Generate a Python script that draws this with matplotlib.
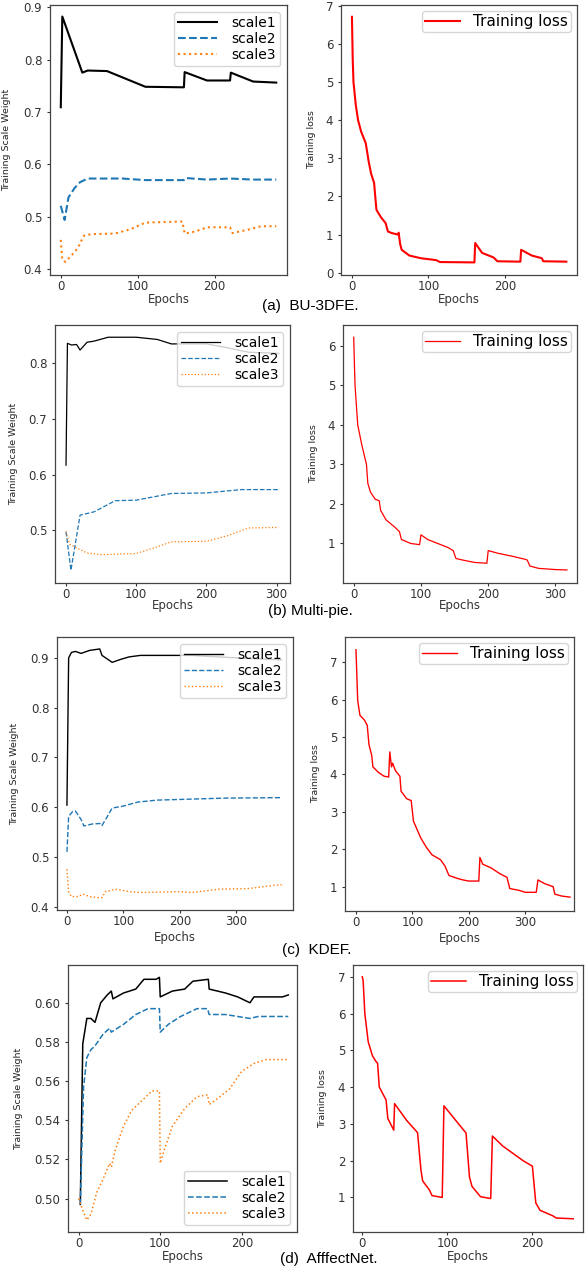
import matplotlib
matplotlib.use('Agg')
import matplotlib.pyplot as plt
from matplotlib.ticker import FormatStrFormatter

# (a) BU-3DFE
bu_x1 = [0, 2, 28, 35, 60, 110, 160, 161, 190, 220, 221, 250, 280]
bu_s1 = [0.709, 0.882, 0.775, 0.779, 0.778, 0.748, 0.747, 0.776, 0.760, 0.760, 0.775, 0.758, 0.756]
bu_x2 = [0, 5, 10, 18, 25, 35, 80, 110, 160, 162, 190, 220, 250, 280]
bu_s2 = [0.521, 0.494, 0.537, 0.555, 0.566, 0.573, 0.573, 0.570, 0.570, 0.574, 0.571, 0.573, 0.571, 0.571]
bu_x3 = [0, 2, 6, 15, 22, 30, 40, 70, 90, 110, 158, 161, 175, 190, 220, 223, 245, 260, 280]
bu_s3 = [0.456, 0.418, 0.414, 0.428, 0.440, 0.464, 0.467, 0.468, 0.476, 0.489, 0.491, 0.468, 0.472, 0.480,
         0.480, 0.469, 0.476, 0.482, 0.482]
bu_xl = [0, 1, 2, 5, 8, 12, 18, 22, 25, 29, 30, 32, 38, 44, 47, 52, 60, 61, 63, 65, 75, 90, 110, 115,
         160, 161, 170, 185, 190, 220, 221, 235, 248, 250, 280]
bu_loss = [6.71, 5.6, 5.0, 4.4, 4.0, 3.7, 3.4, 2.9, 2.6, 2.35, 2.1, 1.65, 1.45, 1.3, 1.08, 1.04, 1.0, 1.05,
           0.75, 0.6, 0.45, 0.38, 0.33, 0.28, 0.27, 0.78, 0.52, 0.4, 0.3, 0.29, 0.6, 0.45, 0.38, 0.3, 0.29]

# (b) Multi-pie
mp_x1 = [0, 2, 8, 15, 20, 30, 40, 60, 100, 130, 150, 200, 230, 260, 303]
mp_s1 = [0.617, 0.836, 0.833, 0.834, 0.824, 0.838, 0.840, 0.847, 0.847, 0.843, 0.835, 0.835, 0.828, 0.820, 0.818]
mp_x2 = [0, 7, 20, 40, 70, 100, 150, 200, 250, 303]
mp_s2 = [0.497, 0.428, 0.527, 0.533, 0.553, 0.554, 0.566, 0.567, 0.573, 0.573]
mp_x3 = [0, 5, 15, 30, 50, 100, 130, 150, 200, 230, 260, 303]
mp_s3 = [0.498, 0.475, 0.468, 0.459, 0.456, 0.458, 0.470, 0.479, 0.480, 0.490, 0.504, 0.505]
mp_xl = [0, 1, 2, 6, 12, 19, 21, 25, 32, 38, 40, 48, 62, 68, 71, 85, 98, 100, 110, 125, 140, 148, 152,
         165, 180, 198, 200, 215, 235, 255, 258, 262, 275, 300, 317]
mp_loss = [6.22, 5.6, 5.0, 4.0, 3.5, 3.0, 2.52, 2.3, 2.12, 2.08, 1.84, 1.6, 1.4, 1.3, 1.1, 1.0, 0.97, 1.22,
           1.1, 1.0, 0.9, 0.82, 0.62, 0.57, 0.52, 0.5, 0.82, 0.75, 0.68, 0.6, 0.58, 0.43, 0.37, 0.34, 0.33]

# (c) KDEF
kd_x1 = [0, 3, 8, 15, 25, 40, 58, 62, 75, 80, 95, 110, 130, 200, 220, 300, 380]
kd_s1 = [0.604, 0.900, 0.911, 0.913, 0.909, 0.915, 0.918, 0.905, 0.895, 0.891, 0.897, 0.902, 0.905, 0.905,
         0.905, 0.900, 0.896]
kd_x2 = [0, 3, 10, 15, 25, 30, 45, 60, 62, 72, 80, 100, 125, 160, 220, 280, 380]
kd_s2 = [0.510, 0.581, 0.591, 0.592, 0.575, 0.562, 0.566, 0.567, 0.563, 0.582, 0.598, 0.602, 0.610, 0.614,
         0.616, 0.618, 0.619]
kd_x3 = [0, 3, 8, 20, 28, 40, 55, 62, 68, 80, 85, 110, 130, 200, 220, 270, 320, 370, 380]
kd_s3 = [0.475, 0.430, 0.420, 0.420, 0.425, 0.420, 0.418, 0.418, 0.430, 0.433, 0.435, 0.430, 0.428, 0.430,
         0.428, 0.435, 0.436, 0.443, 0.444]
kd_xl = [0, 3, 7, 15, 20, 23, 28, 30, 40, 50, 58, 60, 63, 65, 70, 78, 80, 90, 98, 102, 115, 125, 135, 150,
         158, 165, 180, 190, 200, 218, 220, 225, 240, 255, 268, 273, 290, 300, 320, 323, 335, 350, 353, 365, 380]
kd_loss = [7.33, 5.98, 5.58, 5.45, 5.31, 4.8, 4.5, 4.2, 4.05, 3.95, 3.93, 4.6, 4.2, 4.3, 4.1, 3.95, 3.55, 3.35,
           3.3, 2.75, 2.3, 2.05, 1.85, 1.72, 1.55, 1.3, 1.22, 1.18, 1.15, 1.15, 1.78, 1.6, 1.5, 1.35, 1.25,
           0.95, 0.9, 0.85, 0.85, 1.18, 1.08, 1.0, 0.8, 0.75, 0.72]

# (d) AffectNet
af_x1 = [2, 5, 10, 15, 20, 27, 35, 40, 42, 55, 70, 80, 95, 99, 100, 115, 130, 140, 159, 160, 180, 195, 210,
         215, 250, 257]
af_s1 = [0.497, 0.579, 0.592, 0.592, 0.590, 0.600, 0.604, 0.606, 0.602, 0.605, 0.607, 0.612, 0.612, 0.613,
         0.603, 0.606, 0.607, 0.611, 0.612, 0.607, 0.605, 0.603, 0.600, 0.603, 0.603, 0.604]
af_x2 = [2, 6, 10, 15, 20, 30, 38, 40, 55, 70, 85, 99, 100, 110, 125, 145, 158, 160, 180, 210, 220, 257]
af_s2 = [0.497, 0.557, 0.572, 0.576, 0.578, 0.584, 0.587, 0.585, 0.589, 0.594, 0.597, 0.597, 0.585, 0.589,
         0.593, 0.597, 0.597, 0.594, 0.594, 0.592, 0.593, 0.593]
af_x3 = [0, 5, 10, 15, 22, 30, 38, 40, 45, 55, 65, 80, 90, 99, 100, 105, 115, 130, 145, 158, 160, 170, 185,
         200, 215, 230, 257]
af_s3 = [0.500, 0.494, 0.489, 0.492, 0.503, 0.510, 0.518, 0.516, 0.525, 0.537, 0.545, 0.551, 0.555, 0.555,
         0.518, 0.525, 0.537, 0.546, 0.552, 0.553, 0.548, 0.551, 0.556, 0.565, 0.569, 0.571, 0.571]
af_xl = [0, 1, 3, 7, 12, 16, 18, 20, 28, 30, 37, 38, 52, 65, 69, 71, 79, 82, 94, 96, 122, 126, 129, 139,
         151, 153, 165, 189, 200, 204, 209, 224, 228, 248]
af_loss = [7.0, 6.9, 6.0, 5.23, 4.85, 4.7, 4.65, 4.0, 3.65, 3.15, 2.83, 3.55, 3.1, 2.76, 1.74, 1.45, 1.2, 1.05,
           1.0, 3.49, 2.75, 1.56, 1.3, 1.02, 0.97, 2.67, 2.4, 2.0, 1.85, 0.85, 0.65, 0.5, 0.44, 0.42]

captions = ['(a)  BU-3DFE.', '(b) Multi-pie.', '(c)  KDEF.', '(d)  AfffectNet.']

W, H = 588, 1274
fig = plt.figure(figsize=(W / 100, H / 100), dpi=100)


def caja(left, top, right, bottom):
    return [left / W, 1 - bottom / H, (right - left) / W, (bottom - top) / H]


def estilo(ax, xlim, ylim, xticks, yticks, ylabel, ylab_x, xlab_y):
    ax.set_xlim(xlim)
    ax.set_ylim(ylim)
    ax.set_xticks(xticks)
    ax.set_yticks(yticks)
    ax.tick_params(axis='both', labelsize=8.5, colors='#333333', length=2.5, width=0.8)
    ax.tick_params(axis='x', pad=1.2)
    ax.tick_params(axis='y', pad=3)
    for s in ax.spines.values():
        s.set_color('#444444')
        s.set_linewidth(0.9)
    ax.set_xlabel('Epochs', fontsize=8.5, color='#333333')
    ax.set_ylabel(ylabel, fontsize=6.8, color='#222222')
    ax.xaxis.set_label_coords(0.5, xlab_y)
    ax.yaxis.set_label_coords(ylab_x, 0.5)


def pesos(box, datos, lw, xlim, ylim, xticks, yticks, ylab_x, xlab_y, loc='upper right', fmt='%.1f'):
    ax = fig.add_axes(caja(*box))
    x1, s1, x2, s2, x3, s3 = datos
    ax.plot(x1, s1, color='black', lw=lw, label='scale1')
    ax.plot(x2, s2, color='#1f77b4', ls='--', lw=lw, label='scale2')
    ax.plot(x3, s3, color='#ff7f0e', ls=':', lw=lw, label='scale3')
    estilo(ax, xlim, ylim, xticks, yticks, 'Training Scale Weight', ylab_x, xlab_y)
    ax.yaxis.set_major_formatter(FormatStrFormatter(fmt))
    ax.legend(loc=loc, fontsize=10, handlelength=2.8, handletextpad=1.0, labelspacing=0.15,
              borderpad=0.3)
    return ax


def perdida(box, x, y, lw, xlim, ylim, xticks, yticks, ylab_x, xlab_y):
    ax = fig.add_axes(caja(*box))
    ax.plot(x, y, color='red', lw=lw, label='Training loss')
    estilo(ax, xlim, ylim, xticks, yticks, 'Training loss', ylab_x, xlab_y)
    ax.legend(loc='upper right', fontsize=11, handlelength=2.3, handletextpad=0.85, borderpad=0.2,
              borderaxespad=0.4)
    return ax


# fila 1
pesos((50, 5, 287, 275), (bu_x1, bu_s1, bu_x2, bu_s2, bu_x3, bu_s3), 1.5, (-14, 294), (0.389, 0.904),
      [0, 100, 200], [0.4, 0.5, 0.6, 0.7, 0.8, 0.9], -0.166, -0.067)
perdida((341, 5, 577, 275), bu_xl, bu_loss, 1.5, (-14.3, 294), (-0.06, 7.02),
        [0, 100, 200], range(0, 8), -0.106, -0.067)

# fila 2
pesos((55, 325, 290, 583), (mp_x1, mp_s1, mp_x2, mp_s2, mp_x3, mp_s3), 0.9, (-15.7, 319), (0.405, 0.869),
      [0, 100, 200, 300], [0.5, 0.6, 0.7, 0.8], -0.156, -0.062)
perdida((343, 325, 577, 583), mp_xl, mp_loss, 0.9, (-15.9, 332), (0.0, 6.53),
        [0, 100, 200, 300], range(1, 7), -0.107, -0.062)

# fila 3
pesos((57, 637, 293, 910), (kd_x1, kd_s1, kd_x2, kd_s2, kd_x3, kd_s3), 1.0, (-17.6, 400), (0.393, 0.942),
      [0, 100, 200, 300], [0.4, 0.5, 0.6, 0.7, 0.8, 0.9], -0.161, -0.077)
perdida((345, 637, 574, 911), kd_xl, kd_loss, 1.0, (-19.5, 387), (0.35, 7.67),
        [0, 100, 200, 300], range(1, 8), -0.109, -0.077)

# fila 4
pesos((68, 965, 297, 1232), (af_x1, af_s1, af_x2, af_s2, af_x3, af_s3), 1.1, (-13.1, 267.7),
      (0.4829, 0.6193), [0, 100, 200], [0.50, 0.52, 0.54, 0.56, 0.58, 0.60], -0.195, -0.067,
      loc='lower right', fmt='%.2f')
perdida((353, 965, 583, 1232), af_xl, af_loss, 1.1, (-10.9, 259.5), (0.06, 7.32),
        [0, 100, 200], range(1, 8), -0.112, -0.067)

# pies de figura
for texto, (xc, yc) in zip(captions, [(262, 306), (268, 611), (282, 950), (280, 1259)]):
    fig.text(xc / W, 1 - yc / H, texto, fontsize=11, family='Liberation Sans', ha='left', va='center')

fig.savefig('out.png', dpi=100)
